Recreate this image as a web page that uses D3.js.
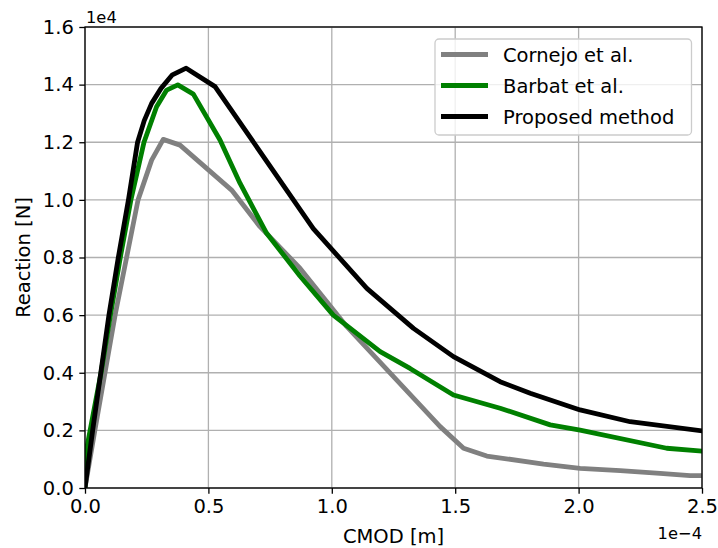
<!DOCTYPE html>
<html>
<head>
<meta charset="utf-8">
<script src="https://cdn.jsdelivr.net/npm/d3@7"></script>
<style>
  html, body { margin: 0; padding: 0; background: #fff; }
  svg { display: block; font-family: "DejaVu Sans", sans-serif; }
</style>
</head>
<body>
<svg id="chart" width="718" height="548"></svg>
<script>
// ---- data (CMOD in m, reaction in N) ----
const seriesNames = ["Cornejo et al.", "Barbat et al.", "Proposed method"];
const seriesColors = ["#808080", "#008000", "#000000"];

const cornejoX = [0, 0.04, 0.122, 0.215, 0.27, 0.317, 0.385, 0.594, 0.709, 0.871, 1.061, 1.439, 1.534, 1.628, 1.858, 2.006, 2.169, 2.33, 2.452, 2.5].map(v => v * 1e-4);
const cornejoY = [0, 0.2, 0.6, 1.0, 1.138, 1.21, 1.19, 1.034, 0.907, 0.763, 0.56, 0.213, 0.138, 0.111, 0.083, 0.068, 0.06, 0.051, 0.043, 0.043].map(v => v * 1e4);

const barbatX = [0, 0.003, 0.065, 0.103, 0.143, 0.186, 0.239, 0.29, 0.331, 0.376, 0.439, 0.547, 0.628, 0.736, 0.871, 1.006, 1.196, 1.317, 1.493, 1.682, 1.885, 2.006, 2.357, 2.5].map(v => v * 1e-4);
const barbatY = [0, 0.12, 0.4, 0.6, 0.8, 1.0, 1.2, 1.323, 1.381, 1.399, 1.367, 1.208, 1.058, 0.884, 0.736, 0.6, 0.473, 0.415, 0.323, 0.277, 0.219, 0.201, 0.138, 0.128].map(v => v * 1e4);

const proposedX = [0, 0.031, 0.064, 0.097, 0.135, 0.176, 0.213, 0.24, 0.27, 0.308, 0.354, 0.41, 0.527, 0.925, 1.142, 1.331, 1.493, 1.682, 1.804, 2.006, 2.209, 2.5].map(v => v * 1e-4);
const proposedY = [0, 0.2, 0.4, 0.6, 0.8, 1.0, 1.2, 1.275, 1.335, 1.387, 1.434, 1.457, 1.393, 0.9, 0.693, 0.554, 0.456, 0.369, 0.329, 0.271, 0.23, 0.198].map(v => v * 1e4);

const xTicks = [0, 0.5e-4, 1.0e-4, 1.5e-4, 2.0e-4, 2.5e-4];
const yTicks = [0, 2000, 4000, 6000, 8000, 10000, 12000, 14000, 16000];

const series = [
  { name: seriesNames[0], color: seriesColors[0], pts: cornejoX.map((x, i) => [x, cornejoY[i]]) },
  { name: seriesNames[1], color: seriesColors[1], pts: barbatX.map((x, i) => [x, barbatY[i]]) },
  { name: seriesNames[2], color: seriesColors[2], pts: proposedX.map((x, i) => [x, proposedY[i]]) }
];

// ---- layout ----
const L = 85, R = 702, T = 27, B = 488;
const svg = d3.select("#chart");
const x = d3.scaleLinear().domain([0, 2.5e-4]).range([L, R]);
const y = d3.scaleLinear().domain([0, 16000]).range([B, T]);

svg.append("defs").append("clipPath").attr("id", "clip")
  .append("rect").attr("x", L).attr("y", T).attr("width", R - L).attr("height", B - T);

// grid
const grid = svg.append("g");
grid.selectAll("line.gx").data(xTicks).join("line")
  .attr("x1", d => x(d)).attr("x2", d => x(d)).attr("y1", T).attr("y2", B)
  .attr("stroke", "#b0b0b0").attr("stroke-width", 1.3);
grid.selectAll("line.gy").data(yTicks).join("line")
  .attr("y1", d => y(d)).attr("y2", d => y(d)).attr("x1", L).attr("x2", R)
  .attr("stroke", "#b0b0b0").attr("stroke-width", 1.3);

// lines
const line = d3.line().x(d => x(d[0])).y(d => y(d[1]));
const lg = svg.append("g").attr("clip-path", "url(#clip)");
lg.selectAll("path").data(series).join("path")
  .attr("d", d => line(d.pts))
  .attr("fill", "none")
  .attr("stroke", d => d.color)
  .attr("stroke-width", 4.8)
  .attr("stroke-linejoin", "round")
  .attr("stroke-linecap", "square");

// axes
const xAxis = d3.axisBottom(x).tickValues(xTicks).tickFormat(d => (d / 1e-4).toFixed(1))
  .tickSizeInner(5.7).tickSizeOuter(0).tickPadding(5.5);
const yAxis = d3.axisLeft(y).tickValues(yTicks).tickFormat(d => (d / 1e4).toFixed(1))
  .tickSizeInner(5.7).tickSizeOuter(0).tickPadding(5.5);

const gx = svg.append("g").attr("transform", `translate(0,${B})`).call(xAxis);
const gy = svg.append("g").attr("transform", `translate(${L},0)`).call(yAxis);
[gx, gy].forEach(g => {
  g.select(".domain").remove();
  g.selectAll(".tick line").attr("stroke", "#000").attr("stroke-width", 1.3);
  g.selectAll(".tick text").attr("fill", "#000").attr("font-size", 19.5)
    .attr("font-family", "DejaVu Sans");
});

// spines
svg.append("rect").attr("x", L).attr("y", T).attr("width", R - L).attr("height", B - T)
  .attr("fill", "none").attr("stroke", "#000").attr("stroke-width", 1.3);

// offset texts
svg.append("text").attr("x", L + 1).attr("y", 22.5).attr("font-size", 16.3).text("1e4");
svg.append("text").attr("x", R).attr("y", 539).attr("font-size", 16.3)
  .attr("text-anchor", "end").text("1e\u22124");

// axis labels
svg.append("text").attr("x", (L + R) / 2).attr("y", 542.5).attr("font-size", 19.5)
  .attr("text-anchor", "middle").text("CMOD [m]");
svg.append("text").attr("transform", `translate(30,${(T + B) / 2}) rotate(-90)`)
  .attr("font-size", 19.5).attr("text-anchor", "middle").text("Reaction [N]");

// legend
const leg = svg.append("g");
leg.append("rect").attr("x", 435).attr("y", 39).attr("width", 256.5).attr("height", 96)
  .attr("rx", 4).attr("fill", "#fff").attr("fill-opacity", 0.8)
  .attr("stroke", "#cccccc").attr("stroke-width", 1.3);
const rows = leg.selectAll("g.row").data(series).join("g")
  .attr("transform", (d, i) => `translate(0,${54.5 + i * 31})`);
rows.append("line").attr("x1", 441).attr("x2", 488).attr("y1", 0).attr("y2", 0)
  .attr("stroke", d => d.color).attr("stroke-width", 4.8);
rows.append("text").attr("x", 503).attr("y", 7).attr("font-size", 19.5).text(d => d.name);
</script>
</body>
</html>
